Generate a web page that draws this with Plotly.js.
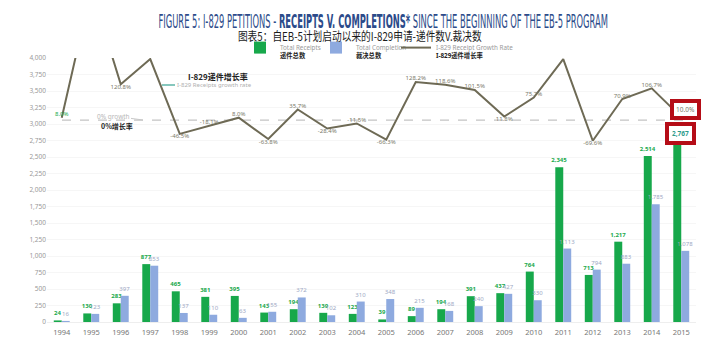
<!DOCTYPE html>
<html>
<head>
<meta charset="utf-8">
<script src="https://cdn.plot.ly/plotly-3.0.1.min.js"></script>
<style>html,body{margin:0;padding:0;background:#fff;}#chart{width:720px;height:359px;}</style>
</head>
<body>
<div id="chart"></div>
<script>
const years = ['1994','1995','1996','1997','1998','1999','2000','2001','2002','2003','2004','2005','2006','2007','2008','2009','2010','2011','2012','2013','2014','2015'];
const receipts = [24,130,283,877,465,381,395,143,194,139,123,39,89,194,391,437,764,2345,713,1217,2514,2767];
const completions = [16,123,397,853,137,110,63,155,372,102,310,348,215,168,240,427,330,1113,794,883,1785,1078];
const growth = [8.0,441.7,120.8,205.6,-46.5,-18.1,8.0,-63.8,35.7,-28.4,-11.5,-66.3,128.2,118.6,101.5,11.8,75.7,205.3,-69.6,70.9,106.7,10.0];
const growthLabelSide = ['top','none','bottom','top','bottom','top','top','bottom','top','bottom','top','bottom','top','top','top','bottom','top','top','bottom','top','top','box'];

const GREEN = '#17a84b', BLUE = '#8eaadf', LINE = '#6e6a55';
const FONT = '"Noto Sans", "Noto Sans CJK SC", sans-serif';
const CJK = '"Noto Sans CJK SC", sans-serif';
const last = years.length - 1;
const fmt = v => v.toLocaleString('en-US');

const traces = [
  {
    type: 'bar', name: 'Total Receipts<br><span style="color:#222"><b>递件总数</b></span>', legend: 'legend',
    x: years, y: receipts, marker: {color: GREEN},
    text: receipts.map((v, i) => i === last ? '' : '<b>' + fmt(v) + '</b>'),
    texttemplate: '%{text}', textposition: 'outside', constraintext: 'none', cliponaxis: false,
    textfont: {size: 6, color: GREEN, family: FONT}, hoverinfo: 'skip'
  },
  {
    type: 'bar', name: 'Total Completion<br><span style="color:#222"><b>裁决总数</b></span>', legend: 'legend2',
    x: years, y: completions, marker: {color: BLUE},
    text: completions.map(fmt),
    texttemplate: '%{text}', textposition: 'outside', constraintext: 'none', cliponaxis: false,
    textfont: {size: 6, color: '#9ea8c4', family: FONT}, hoverinfo: 'skip'
  },
  {
    type: 'scatter', mode: 'lines+text', name: 'I-829 Receipt Growth Rate<br><span style="color:#222"><b>I-829递件增长率</b></span>', legend: 'legend3',
    x: years, y: growth, yaxis: 'y2',
    line: {color: LINE, width: 2},
    text: growth.map((v, i) => (growthLabelSide[i] === 'none' || growthLabelSide[i] === 'box') ? '' : v.toFixed(1) + '%'),
    textposition: growthLabelSide.map(s => s === 'bottom' ? 'bottom center' : 'top center'),
    textfont: {size: 6, color: growth.map((v, i) => i === 0 ? GREEN : '#7a7a6a'), family: FONT},
    hoverinfo: 'skip'
  }
];

const px = p => (p - 47) / 649;
const py = p => (322 - p) / 264;

const legendBase = {
  orientation: 'h', xanchor: 'left', y: py(37), yanchor: 'top',
  font: {size: 6.3, color: '#9a9a9a', family: FONT}, itemwidth: 30, valign: 'top',
  bgcolor: 'rgba(0,0,0,0)'
};

const layout = {
  width: 720, height: 359,
  margin: {l: 47, r: 24, t: 58, b: 37},
  paper_bgcolor: '#fff', plot_bgcolor: '#fff',
  font: {family: FONT, color: '#777'},
  title: {
    text: 'FIGURE 5: I-829 PETITIONS - <b>RECEIPTS V. COMPLETIONS*</b> SINCE THE BEGINNING OF THE EB-5 PROGRAM',
    font: {family: '"Liberation Sans Narrow", "DejaVu Sans Condensed", "DejaVu Sans", sans-serif', size: 20, color: '#2c4b8a'},
    x: 373 / 720, xanchor: 'center', xref: 'paper', y: 1 - 21 / 359, yanchor: 'middle', yref: 'container'
  },
  barmode: 'group', bargap: 0.46, bargroupgap: 0,
  showlegend: true,
  legend: Object.assign({}, legendBase, {x: px(240)}),
  legend2: Object.assign({}, legendBase, {x: px(316)}),
  legend3: Object.assign({}, legendBase, {x: px(396)}),
  xaxis: {
    type: 'category', showgrid: false, zeroline: false, showline: true, linecolor: '#eeeeee', linewidth: 1,
    ticks: '', tickfont: {size: 7.5, color: '#777', family: FONT}, range: [-0.5, last + 0.5],
    ticklabelstandoff: 3
  },
  yaxis: {
    range: [0, 4000], dtick: 250, tickformat: ',', gridcolor: '#f6f6f6', zeroline: false,
    ticks: '', tickfont: {size: 6.5, color: '#999', family: FONT}, fixedrange: true
  },
  yaxis2: {
    overlaying: 'y', range: [-680, 209], visible: false, fixedrange: true
  },
  shapes: [
    {type: 'line', xref: 'paper', yref: 'y2', x0: px(62), x1: px(692), y0: 0, y1: 0,
     line: {color: '#c4c4c4', width: 1.2, dash: 'dash'}, layer: 'below'}
  ],
  annotations: [
    {text: '图表5：自EB-5计划启动以来的I-829申请-递件数V.裁决数', xref: 'paper', yref: 'paper',
     x: px(360), y: py(35.5), xanchor: 'center', yanchor: 'middle', showarrow: false,
     font: {size: 12, color: '#1a1a1a', family: CJK}},
    {text: '<b>I-829递件增长率</b>', xref: 'paper', yref: 'paper', x: px(250), y: py(76),
     xanchor: 'right', yanchor: 'middle', showarrow: false,
     font: {size: 8, color: '#222', family: CJK}},
    {text: 'I-829 Receipts growth rate', xref: 'paper', yref: 'paper', x: px(162), y: py(85),
     ax: 52, ay: 0, showarrow: true, arrowhead: 0, arrowwidth: 1.5, arrowcolor: '#5fb5a8', standoff: 0,
     font: {size: 6, color: '#b0b0b0', family: FONT}},
    {text: '0% growth', xref: 'paper', yref: 'paper', x: px(143), y: py(120),
     ax: -30, ay: -4, showarrow: true, arrowhead: 0, arrowwidth: 1, arrowcolor: '#c8c8c8', standoff: 0,
     font: {size: 6.5, color: '#b8b8b8', family: FONT}},
    {text: '<b>0%增长率</b>', xref: 'paper', yref: 'paper', x: px(117), y: py(126),
     xanchor: 'center', yanchor: 'middle', showarrow: false,
     font: {size: 7, color: '#222', family: CJK}},
    {text: growth[last].toFixed(1) + '%', xref: 'x', yref: 'y2', x: last, y: growth[last],
     xanchor: 'center', yanchor: 'middle',
     xshift: 4, yshift: 8, showarrow: false, bgcolor: '#fff', bordercolor: '#b50d17', borderwidth: 4, borderpad: 2,
     font: {size: 6.5, color: '#7a7a6a', family: FONT}},
    {text: '<b>' + fmt(receipts[last]) + '</b>', xref: 'x', yref: 'y', x: last, y: receipts[last],
     xanchor: 'center', yanchor: 'middle',
     xshift: -1, yshift: 6, showarrow: false, bgcolor: '#fff', bordercolor: '#b50d17', borderwidth: 4, borderpad: 3,
     font: {size: 6.5, color: '#2c9a8a', family: FONT}}
  ]
};

function squeeze(el, targetW) {
  if (!el) return;
  const b = el.getBBox();
  if (!b.width) return;
  const s = targetW / b.width;
  const c = b.x + b.width / 2;
  el.setAttribute('transform', 'translate(' + c + ',0) scale(' + s + ',1) translate(' + (-c) + ',0)');
}

Plotly.newPlot('chart', traces, layout, {displayModeBar: false, staticPlot: true}).then(gd => {
  squeeze(gd.querySelector('.gtitle'), 450);
  squeeze(gd.querySelector('.annotation[data-index="0"] text'), 244);
});
</script>
</body>
</html>
